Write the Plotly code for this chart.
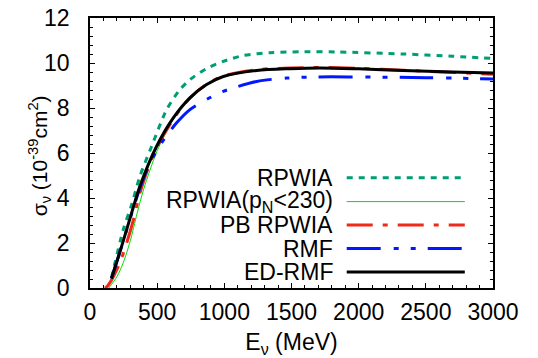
import plotly.graph_objects as go

# ---- data ----
e_rpwia = [160, 248, 310, 372, 459, 571, 670, 744, 868, 992, 1141, 1340, 1600, 1836, 2332, 2700, 3000]
s_rpwia = [0.45, 2.6, 3.7, 4.97, 6.3, 7.93, 8.82, 9.26, 9.75, 10.07, 10.33, 10.46, 10.5, 10.49, 10.4, 10.3, 10.2]

e_cut = [140, 200, 248, 300, 350, 400, 500, 620, 744, 868, 992, 1241, 1489, 1712, 2000, 2330, 2700, 3000]
s_cut = [0.0, 0.5, 1.13, 2.1, 3.3, 4.4, 6.1, 7.5, 8.45, 9.05, 9.42, 9.7, 9.78, 9.8, 9.76, 9.68, 9.58, 9.5]

e_pb = [110, 124, 160, 223, 273, 322, 372, 450, 520, 620, 744, 868, 992, 1241, 1489, 1712, 2000, 2330, 2700, 3000]
s_pb = [0.0, 0.05, 0.35, 1.13, 2.0, 3.0, 4.23, 5.6, 6.5, 7.5, 8.45, 9.05, 9.42, 9.7, 9.78, 9.8, 9.76, 9.68, 9.58, 9.5]

e_rmf = [160, 236, 310, 372, 447, 533, 645, 744, 868, 992, 1241, 1464, 1700, 1960, 2500, 3000]
s_rmf = [0.42, 1.86, 3.3, 4.45, 5.56, 6.45, 7.34, 7.93, 8.38, 8.74, 9.18, 9.33, 9.38, 9.38, 9.35, 9.29]

e_ed = [160, 236, 310, 372, 496, 620, 744, 868, 992, 1241, 1489, 1712, 2000, 2330, 2700, 3000]
s_ed = [0.42, 1.86, 3.34, 4.53, 6.3, 7.56, 8.45, 9.04, 9.4, 9.67, 9.75, 9.78, 9.74, 9.67, 9.6, 9.55]

labels = ["RPWIA", "RPWIA(p<sub>N</sub><230)", "PB RPWIA", "RMF", "ED-RMF"]
colors = ["#009e73", "#00e000", "#ee2a1a", "#0018ff", "#000000"]
widths = [3, 1, 3, 3, 3]
dashes = ["6px,6px", "solid", "26px,10px,5px,10px", "34px,13px,5px,12px,5px,12px", "solid"]
series = [(e_rpwia, s_rpwia), (e_cut, s_cut), (e_pb, s_pb), (e_rmf, s_rmf), (e_ed, s_ed)]

fig = go.Figure()
for (ex, sy), lab, c, w, d in zip(series, labels, colors, widths, dashes):
    fig.add_trace(go.Scatter(x=ex, y=sy, mode="lines", name=lab,
                             line=dict(color=c, width=w, dash=d, shape="spline", smoothing=0.8),
                             showlegend=False))

# manual legend (gnuplot style: right-aligned text, sample on right)
row_y = [0.408, 0.320, 0.233, 0.146, 0.059]
for lab, c, w, d, yy in zip(labels, colors, widths, dashes, row_y):
    fig.add_annotation(x=0.607, y=yy, xref="paper", yref="paper", text=lab,
                       showarrow=False, xanchor="right", yanchor="middle",
                       font=dict(size=23, color="black"))
    fig.add_shape(type="line", xref="paper", yref="paper", x0=0.637, x1=0.93, y0=yy, y1=yy,
                  line=dict(color=c, width=w, dash=d))

# y-axis title placed as a rotated annotation
fig.add_annotation(x=-0.125, y=0.49, xref="paper", yref="paper",
                   text="σ<sub>ν</sub> (10<sup>-39</sup>cm<sup>2</sup>)", textangle=-90,
                   showarrow=False, xanchor="center", yanchor="middle",
                   font=dict(size=21, color="black"))

axis_common = dict(showline=True, linecolor="black", linewidth=1.5, mirror="allticks",
                   ticks="inside", ticklen=5, tickwidth=1, tickcolor="black",
                   showgrid=False, zeroline=False, automargin=False,
                   tickfont=dict(size=23, color="black"))
fig.update_xaxes(range=[0, 3000], dtick=500, ticklabelstandoff=3,
                 minor=dict(dtick=100, ticks="inside", ticklen=3, tickcolor="black"),
                 title=dict(text="E<sub>ν</sub> (MeV)", font=dict(size=23, color="black"), standoff=14),
                 **axis_common)
fig.update_yaxes(range=[0, 12], dtick=2, ticklabelstandoff=14,
                 minor=dict(dtick=0.4, ticks="inside", ticklen=3, tickcolor="black"),
                 **axis_common)
fig.update_layout(width=538, height=358, margin=dict(l=90, r=45, t=18, b=70),
                  plot_bgcolor="white", paper_bgcolor="white",
                  font=dict(family="Liberation Sans, Arial, sans-serif", color="black"))
fig.write_html("out.html")
